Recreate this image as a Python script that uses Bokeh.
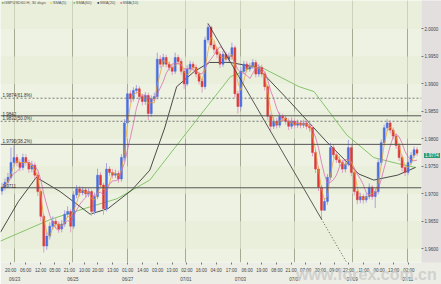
import numpy as np
import pandas as pd
from bokeh.plotting import figure
from bokeh.layouts import column
from bokeh.models import Range1d, LinearAxis, FixedTicker, Span, Label, ColumnDataSource, Div
from bokeh.embed import file_html
from bokeh.resources import INLINE

# ---------------- data (GBPUSD, hourly bars) ----------------
closes = [1.9712, 1.9721, 1.9730, 1.9757, 1.9766, 1.9757, 1.9748, 1.9766, 1.9757, 1.9745,
          1.9752, 1.9734, 1.9704, 1.9659, 1.9605, 1.9623, 1.9641, 1.9650, 1.9645, 1.9636,
          1.9645, 1.9663, 1.9668, 1.9641, 1.9698, 1.9709, 1.9702, 1.9707, 1.9700, 1.9704,
          1.9668, 1.9695, 1.9734, 1.9716, 1.9673, 1.9745, 1.9739, 1.9734, 1.9737, 1.9727,
          1.9766, 1.9829, 1.9882, 1.9873, 1.9888, 1.9891, 1.9877, 1.9868, 1.9879, 1.9846,
          1.9873, 1.9877, 1.9945, 1.9936, 1.9948, 1.9936, 1.9930, 1.9923, 1.9948, 1.9941,
          1.9923, 1.9900, 1.9927, 1.9936, 1.9930, 1.9918, 1.9905, 1.9895, 1.9980, 2.0003,
          1.9971, 1.9963, 1.9954, 1.9936, 1.9954, 1.9945, 1.9950, 1.9966, 1.9882, 1.9859,
          1.9923, 1.9936, 1.9927, 1.9932, 1.9939, 1.9918, 1.9930, 1.9918, 1.9895, 1.9841,
          1.9823, 1.9832, 1.9825, 1.9841, 1.9838, 1.9832, 1.9823, 1.9832, 1.9825, 1.9829,
          1.9825, 1.9829, 1.9823, 1.9820, 1.9775, 1.9745, 1.9712, 1.9670, 1.9686, 1.9730,
          1.9784, 1.9771, 1.9762, 1.9757, 1.9745, 1.9754, 1.9784, 1.9739, 1.9704, 1.9689,
          1.9695, 1.9689, 1.9695, 1.9712, 1.9695, 1.9704, 1.9757, 1.9793, 1.9820, 1.9829,
          1.9816, 1.9805, 1.9788, 1.9766, 1.9748, 1.9739, 1.9757, 1.9770, 1.9780, 1.9774]
opens = [1.9705, 1.9712, 1.9721, 1.9730, 1.9757, 1.9766, 1.9757, 1.9748, 1.9766, 1.9757,
         1.9745, 1.9752, 1.9734, 1.9704, 1.9659, 1.9605, 1.9623, 1.9641, 1.9650, 1.9645,
         1.9636, 1.9645, 1.9663, 1.9668, 1.9641, 1.9698, 1.9709, 1.9702, 1.9707, 1.9700,
         1.9704, 1.9668, 1.9695, 1.9734, 1.9716, 1.9673, 1.9745, 1.9739, 1.9734, 1.9737,
         1.9727, 1.9766, 1.9829, 1.9882, 1.9873, 1.9888, 1.9891, 1.9877, 1.9868, 1.9879,
         1.9846, 1.9873, 1.9877, 1.9945, 1.9936, 1.9948, 1.9936, 1.9930, 1.9923, 1.9948,
         1.9941, 1.9923, 1.9900, 1.9927, 1.9936, 1.9930, 1.9918, 1.9905, 1.9895, 1.9980,
         2.0003, 1.9971, 1.9963, 1.9954, 1.9936, 1.9954, 1.9945, 1.9950, 1.9966, 1.9882,
         1.9859, 1.9923, 1.9936, 1.9927, 1.9932, 1.9939, 1.9918, 1.9930, 1.9918, 1.9895,
         1.9841, 1.9823, 1.9832, 1.9825, 1.9841, 1.9838, 1.9832, 1.9823, 1.9832, 1.9825,
         1.9829, 1.9825, 1.9829, 1.9823, 1.9820, 1.9775, 1.9745, 1.9712, 1.9670, 1.9686,
         1.9730, 1.9784, 1.9771, 1.9762, 1.9757, 1.9745, 1.9754, 1.9784, 1.9739, 1.9704,
         1.9689, 1.9695, 1.9689, 1.9695, 1.9712, 1.9695, 1.9704, 1.9757, 1.9793, 1.9820,
         1.9829, 1.9816, 1.9805, 1.9788, 1.9766, 1.9748, 1.9739, 1.9757, 1.9770, 1.9780]
highs = [1.9720, 1.9728, 1.9738, 1.9784, 1.9788, 1.9772, 1.9763, 1.9773, 1.9772, 1.9762,
         1.9760, 1.9757, 1.9739, 1.9708, 1.9663, 1.9630, 1.9648, 1.9659, 1.9656, 1.9650,
         1.9652, 1.9670, 1.9677, 1.9672, 1.9705, 1.9716, 1.9714, 1.9713, 1.9712, 1.9710,
         1.9708, 1.9702, 1.9746, 1.9739, 1.9720, 1.9756, 1.9750, 1.9745, 1.9744, 1.9742,
         1.9772, 1.9836, 1.9894, 1.9888, 1.9894, 1.9898, 1.9896, 1.9882, 1.9885, 1.9884,
         1.9879, 1.9884, 1.9957, 1.9952, 1.9955, 1.9953, 1.9941, 1.9935, 1.9957, 1.9953,
         1.9946, 1.9928, 1.9934, 1.9942, 1.9941, 1.9935, 1.9922, 1.9910, 1.9986, 2.0010,
         2.0006, 1.9977, 1.9968, 1.9959, 1.9960, 1.9959, 1.9957, 1.9975, 1.9970, 1.9888,
         1.9930, 1.9942, 1.9941, 1.9938, 1.9945, 1.9944, 1.9936, 1.9935, 1.9922, 1.9899,
         1.9846, 1.9840, 1.9838, 1.9848, 1.9846, 1.9843, 1.9837, 1.9839, 1.9837, 1.9835,
         1.9834, 1.9835, 1.9834, 1.9828, 1.9825, 1.9780, 1.9750, 1.9716, 1.9692, 1.9736,
         1.9793, 1.9790, 1.9776, 1.9768, 1.9762, 1.9760, 1.9798, 1.9789, 1.9744, 1.9709,
         1.9702, 1.9700, 1.9701, 1.9719, 1.9716, 1.9710, 1.9763, 1.9799, 1.9826, 1.9836,
         1.9834, 1.9821, 1.9810, 1.9792, 1.9771, 1.9753, 1.9763, 1.9776, 1.9786, 1.9785]
lows = [1.9698, 1.9706, 1.9715, 1.9726, 1.9750, 1.9750, 1.9741, 1.9743, 1.9751, 1.9738,
        1.9739, 1.9727, 1.9696, 1.9650, 1.9593, 1.9598, 1.9617, 1.9635, 1.9638, 1.9629,
        1.9630, 1.9640, 1.9657, 1.9630, 1.9636, 1.9692, 1.9695, 1.9697, 1.9694, 1.9694,
        1.9660, 1.9662, 1.9690, 1.9710, 1.9662, 1.9668, 1.9733, 1.9728, 1.9729, 1.9720,
        1.9722, 1.9760, 1.9824, 1.9866, 1.9868, 1.9882, 1.9871, 1.9861, 1.9862, 1.9834,
        1.9840, 1.9868, 1.9872, 1.9929, 1.9931, 1.9930, 1.9924, 1.9916, 1.9918, 1.9935,
        1.9917, 1.9891, 1.9896, 1.9921, 1.9924, 1.9912, 1.9899, 1.9884, 1.9890, 1.9974,
        1.9965, 1.9956, 1.9947, 1.9929, 1.9931, 1.9939, 1.9940, 1.9944, 1.9875, 1.9846,
        1.9853, 1.9918, 1.9921, 1.9922, 1.9927, 1.9912, 1.9913, 1.9912, 1.9888, 1.9834,
        1.9815, 1.9818, 1.9819, 1.9820, 1.9832, 1.9826, 1.9816, 1.9818, 1.9819, 1.9820,
        1.9819, 1.9820, 1.9817, 1.9813, 1.9768, 1.9738, 1.9705, 1.9654, 1.9670, 1.9680,
        1.9725, 1.9765, 1.9756, 1.9750, 1.9738, 1.9739, 1.9750, 1.9732, 1.9697, 1.9681,
        1.9683, 1.9682, 1.9684, 1.9690, 1.9689, 1.9674, 1.9699, 1.9752, 1.9788, 1.9814,
        1.9810, 1.9799, 1.9782, 1.9760, 1.9741, 1.9732, 1.9734, 1.9752, 1.9765, 1.9769]

# longer moving averages (bar index, price)
sma20_bars = [0, 6, 12, 20, 30, 36, 44, 50, 55, 59, 65, 70, 77, 86, 96, 109, 120, 125, 133, 139]
sma20_vals = [1.9630, 1.9686, 1.9730, 1.9704, 1.9663, 1.9673, 1.9707, 1.9743, 1.9820, 1.9895,
              1.9923, 1.9939, 1.9939, 1.9930, 1.9873, 1.9796, 1.9736, 1.9725, 1.9734, 1.9748]
sma60_bars = [0, 17, 28, 39, 50, 61, 77, 86, 100, 105, 110, 116, 125, 133, 139]
sma60_vals = [1.9614, 1.9654, 1.9673, 1.9691, 1.9725, 1.9802, 1.9913, 1.9934, 1.9895, 1.9886,
              1.9850, 1.9807, 1.9766, 1.9755, 1.9748]

horiz_levels = [1.9842, 1.9711]
fib_ratios = [0.382, 0.5, 0.618]
fib_names = ["38.2%", "50.0%", "61.8%"]

time_tick_bars = [3.4, 8.4, 13.4, 18.2, 23.1, 28.2, 32.6, 37.6, 42.6, 47.7, 52.6, 57.5, 62.4, 67.3,
                  72.2, 77.3, 82.6, 87.5, 92.6, 97.3, 102.2, 107.1, 112.0, 116.6, 121.7, 126.8, 131.7, 136.8]
time_tick_labels = ["20:00", "06:00", "12:00", "05:00", "21:00", "10:00", "20:00", "13:00", "01:00",
                    "14:00", "03:00", "13:00", "02:00", "16:00", "04:00", "17:00", "06:00", "19:00",
                    "08:00", "21:00", "07:00", "20:00", "09:00", "22:00", "11:00", "00:00", "13:00", "02:00"]
day_bars = [4.7, 24.2, 42.6, 62.1, 80.3, 98.6, 117.8, 136.4]
day_labels = ["06/23", "06/25", "06/27", "07/01", "07/03", "07/07", "07/09", "07/11"]

price_ticks = [1.9600, 1.9650, 1.9700, 1.9750, 1.9800, 1.9850, 1.9900, 1.9950, 2.0000]

# ---------------- figure ----------------
n = len(closes)
bx = np.arange(n) + 0.5
df = pd.DataFrame(dict(x=bx, o=opens, c=closes, h=highs, l=lows))
df["top"] = df[["o", "c"]].max(axis=1)
df["bot"] = df[["o", "c"]].min(axis=1)
df["col"] = np.where(df["c"] >= df["o"], "#4a6ee0", "#dc3a3a")
df["wick"] = np.where(df["c"] >= df["o"], "#a8a4e0", "#e0a0c4")
src = ColumnDataSource(df)

p = figure(width=441, height=284, output_backend="svg", toolbar_location=None,
           x_range=Range1d(0, 141), y_range=Range1d(1.95750, 2.00518),
           y_axis_location="right", min_border_left=0, min_border_right=18,
           min_border_top=0, min_border_bottom=17)
p.background_fill_color = "#eef2e3"
p.border_fill_color = "#eceee6"
p.outline_line_color = None

# grids
p.xgrid.ticker = FixedTicker(ticks=day_bars)
p.xgrid.grid_line_color = "#a4aa94"
p.xgrid.grid_line_width = 1
p.ygrid.ticker = FixedTicker(ticks=price_ticks)
p.ygrid.grid_line_color = None
p.ygrid.band_fill_color = "#e6edd6"
p.ygrid.band_fill_alpha = 0.6

# moving averages
ma5 = pd.Series(closes).rolling(3, min_periods=1).mean()
ma10 = pd.Series(closes).rolling(6, min_periods=1).mean()
p.line(sma60_bars, sma60_vals, line_color="#86c46a", line_width=1)
p.line(sma20_bars, sma20_vals, line_color="#222222", line_width=0.8)

# candles
p.segment("x", "h", "x", "l", source=src, line_color="wick", line_width=1)
p.vbar(x="x", top="top", bottom="bot", width=0.65, source=src,
       fill_color="col", line_color="col", line_width=0.5)

p.line(bx, ma10, line_color="#d860b0", line_width=0.8, line_alpha=0.9)
p.line(bx, ma5, line_color="#e8a030", line_width=0.8, line_alpha=0.9)

# fibonacci / trend line from swing high to swing low
i_hi = int(np.argmax(highs))
i_lo = i_hi + int(np.argmin(lows[i_hi:]))
hi, lo = highs[i_hi], lows[i_lo]
p.line([bx[i_hi], bx[i_lo]], [hi, lo], line_color="#333333", line_width=0.8)
slope = (lo - hi) / (bx[i_lo] - bx[i_hi])
p.line([bx[i_lo], bx[i_lo] + 14], [lo, lo + slope * 14], line_color="#333333", line_width=0.8,
       line_dash="1 2")

lab_style = dict(text_font_size="4.5px", text_color="#333333", text_font="Liberation Sans",
                 text_baseline="bottom", x_offset=2)
for r, nm in zip(fib_ratios, fib_names):
    lvl = lo + (hi - lo) * r
    if nm == "38.2%":
        p.add_layout(Span(location=lvl, dimension="width", line_color="#555555", line_width=1))
    else:
        p.add_layout(Span(location=lvl, dimension="width", line_color="#777777", line_width=1,
                          line_dash="2 2"))
    p.add_layout(Label(x=0, y=lvl, text=f"{lvl:.4f}({nm})", **lab_style))
for lv in horiz_levels:
    p.add_layout(Span(location=lv, dimension="width", line_color="#555555", line_width=1))
    p.add_layout(Label(x=0, y=lv, text=f"{lv:.4f}", **lab_style))

# axes
ax = p.yaxis[0]
ax.ticker = FixedTicker(ticks=price_ticks)
ax.major_label_overrides = {t: f"{t:.4f}" for t in price_ticks}
ax.major_label_text_font_size = "4.5px"
ax.major_label_text_color = "#444444"
ax.major_label_standoff = 1
ax.major_tick_out = 2
ax.major_tick_in = 0
ax.minor_tick_out = 0
ax.minor_tick_in = 0
ax.minor_tick_line_color = None
ax.axis_line_color = None
ax.major_tick_line_color = "#777777"
ax.background_fill_color = "#e3dfde"

xa = p.xaxis[0]
xa.ticker = FixedTicker(ticks=time_tick_bars)
xa.major_label_overrides = {t: s for t, s in zip(time_tick_bars, time_tick_labels)}
xa.major_label_text_font_size = "4.5px"
xa.major_label_text_color = "#444444"
xa.major_label_standoff = 3
xa.major_tick_out = 2
xa.major_tick_in = 0
xa.minor_tick_out = 0
xa.minor_tick_in = 0
xa.minor_tick_line_color = None
xa.axis_line_color = None
xa.major_tick_line_color = "#777777"

xd = LinearAxis(ticker=FixedTicker(ticks=day_bars),
                major_label_overrides={t: s for t, s in zip(day_bars, day_labels)})
xd.major_label_text_font_size = "4.5px"
xd.major_label_text_color = "#444444"
xd.major_label_standoff = 1
xd.major_tick_out = 0
xd.major_tick_in = 0
xd.minor_tick_out = 0
xd.minor_tick_in = 0
xd.major_tick_line_color = None
xd.minor_tick_line_color = None
xd.axis_line_color = None
p.add_layout(xd, "below")

# legend strip at top
legend_items = [("GBPUSD60 H, 30 days", "#44aa44", 0.3), ("SMA(5)", "#e0d040", 16.6),
                ("SMA(60)", "#66bb44", 24.3), ("SMA(20)", "#111111", 32.3), ("SMA(10)", "#e050b0", 40.0)]
for txt, col, xb in legend_items:
    p.add_layout(Label(x=xb, y=2.00475, text="\u25cf", text_font_size="4px", text_color=col,
                       text_baseline="middle"))
    p.add_layout(Label(x=xb + 0.9, y=2.00475, text=txt, text_font_size="4px", text_color="#555555",
                       text_baseline="middle", text_font="Liberation Sans"))

# overlay (texts outside the plot frame): current price tag and watermark
last = closes[-1]
tag_top = 2.00518 - last
tag_px = int(round(tag_top / (2.00518 - 1.95750) * 267)) - 3
overlay_html = (
    '<div style="position:relative;width:441px;height:284px;overflow:hidden;pointer-events:none;">'
    f'<span style="position:absolute;left:424px;top:{tag_px}px;background:#2a9a76;color:#ffffff;'
    'font:4.5px \'Liberation Sans\';line-height:5px;padding:0 1px;">'
    f'{last:.4f}</span>'
    '<span style="position:absolute;left:296px;top:267px;color:#cccccc;opacity:0.85;'
    'font:bold 16px \'Liberation Sans\';line-height:16px;white-space:nowrap;">www.forex.com.cn</span>'
    '</div>'
)
overlay = Div(text=overlay_html, width=441, height=284, margin=(-284, 0, 0, 0))

page = column(p, overlay, spacing=0)
open("out.html", "w").write(file_html(page, INLINE))
